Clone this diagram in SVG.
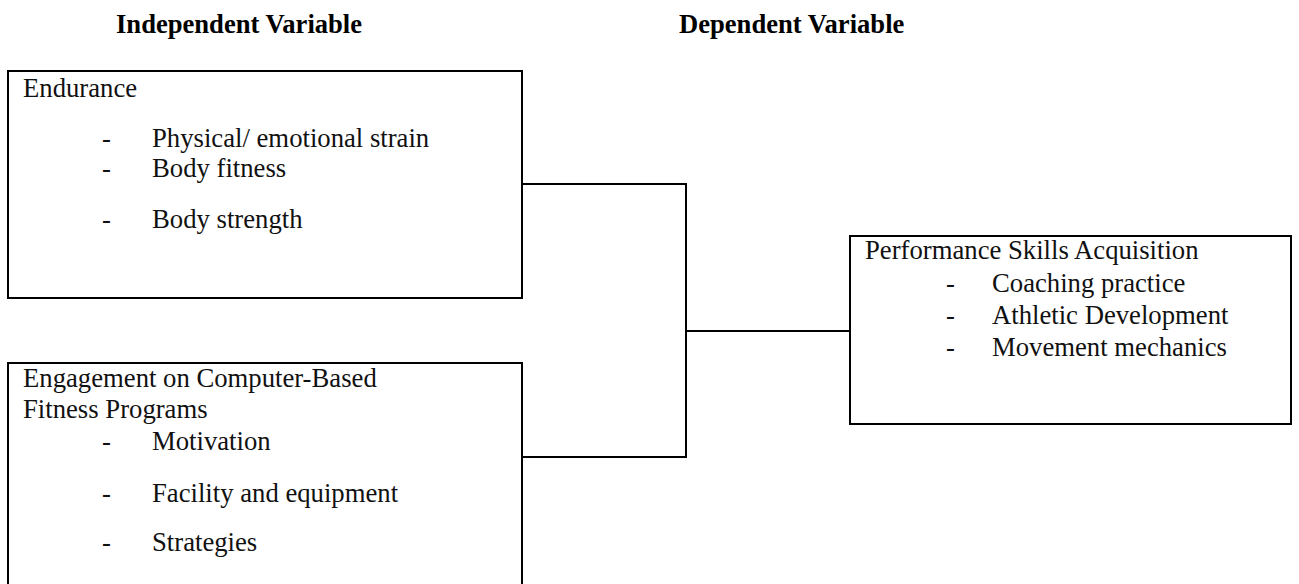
<svg xmlns="http://www.w3.org/2000/svg" width="1299" height="584" viewBox="0 0 1299 584">
<style>
.box{fill:#fff;stroke:#000;stroke-width:2}
.t{font-family:"Liberation Serif","Times New Roman",serif;font-size:26.7px;fill:#111}
.h{font-family:"Liberation Serif","Times New Roman",serif;font-size:26.6px;font-weight:bold;fill:#000}
.c{fill:none;stroke:#000;stroke-width:2}
</style>
<rect width="1299" height="584" fill="#fff"/>
<g id="headers">
<text class="h" x="116" y="33">Independent Variable</text>
<text class="h" x="679" y="33">Dependent Variable</text>
</g>
<g id="connectors">
<polyline class="c" points="522,184 686,184 686,457 522,457"/>
<line class="c" x1="686" y1="331" x2="850" y2="331"/>
</g>
<g id="endurance">
<rect class="box" x="8" y="71" width="514" height="227"/>
<text class="t" x="23" y="97">Endurance</text>
<text class="t" x="102" y="147">-</text><text class="t" x="152" y="147">Physical/ emotional strain</text>
<text class="t" x="102" y="177">-</text><text class="t" x="152" y="177">Body fitness</text>
<text class="t" x="102" y="228">-</text><text class="t" x="152" y="228">Body strength</text>
</g>
<g id="engagement">
<rect class="box" x="8" y="363" width="514" height="240"/>
<text class="t" x="23" y="387">Engagement on Computer-Based</text>
<text class="t" x="23" y="418">Fitness Programs</text>
<text class="t" x="102" y="450">-</text><text class="t" x="152" y="450">Motivation</text>
<text class="t" x="102" y="502">-</text><text class="t" x="152" y="502">Facility and equipment</text>
<text class="t" x="102" y="551">-</text><text class="t" x="152" y="551">Strategies</text>
</g>
<g id="performance">
<rect class="box" x="850" y="236" width="441" height="188"/>
<text class="t" x="865" y="259">Performance Skills Acquisition</text>
<text class="t" x="946" y="292">-</text><text class="t" x="992" y="292">Coaching practice</text>
<text class="t" x="946" y="324">-</text><text class="t" x="992" y="324">Athletic Development</text>
<text class="t" x="946" y="356">-</text><text class="t" x="992" y="356">Movement mechanics</text>
</g>
</svg>
